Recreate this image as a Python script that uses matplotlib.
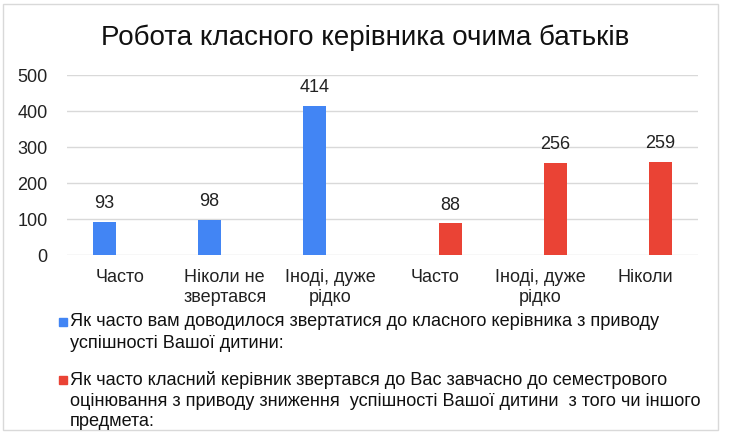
import matplotlib
matplotlib.use("Agg")
import matplotlib.pyplot as plt
from matplotlib.patches import Rectangle
import numpy as np

plt.rcParams['font.family'] = ['Liberation Sans', 'DejaVu Sans']

title = "Робота класного керівника очима батьків"
categories = ["Часто", "Ніколи не\nзвертався", "Іноді, дуже\nрідко",
              "Часто", "Іноді, дуже\nрідко", "Ніколи"]
series_names = [
    "Як часто вам доводилося звертатися до класного керівника з приводу\nуспішності Вашої дитини:",
    "Як часто класний керівник звертався до Вас завчасно до семестрового\n"
    "оцінювання з приводу зниження  успішності Вашої дитини  з того чи іншого\nпредмета:",
]
blue_vals = [93, 98, 414, None, None, None]
red_vals = [None, None, None, 88, 256, 259]
colors = ["#4285F4", "#EA4335"]
yticks = [0, 100, 200, 300, 400, 500]

W, H = 730, 441
fig = plt.figure(figsize=(W / 100, H / 100), dpi=100)
fig.patches.append(Rectangle((3 / W, 11 / H), 715 / W, 426 / H,
                             transform=fig.transFigure, fill=False,
                             edgecolor="#d9d9d9", linewidth=1))
ax = fig.add_axes([67 / W, (H - 255) / H, 631 / W, 180 / H])

x = np.arange(len(categories))
w = 0.22
off = 0.145
for vals, sign, col in [(blue_vals, -1, colors[0]), (red_vals, 1, colors[1])]:
    xs = [xi + sign * off for xi, v in zip(x, vals) if v is not None]
    vs = [v for v in vals if v is not None]
    ax.bar(xs, vs, width=w, color=col, zorder=3)
    for xi, v in zip(xs, vs):
        ax.annotate(str(v), (xi, v), xytext=(0, 7), textcoords="offset points",
                    ha="center", va="bottom", fontsize=13, color="#222222")

ax.set_xlim(-0.5, len(categories) - 0.5)
ax.set_ylim(0, 500)
ax.set_yticks(yticks)
ax.set_xticks(x)
ax.set_xticklabels(categories, fontsize=13, color="#222222", linespacing=1.25)
ax.tick_params(axis="y", length=0, pad=14, labelsize=13, labelcolor="#222222")
ax.tick_params(axis="x", length=0, pad=10)
ax.grid(axis="y", color="#d9d9d9", linewidth=1, zorder=0)
for s in ax.spines.values():
    s.set_visible(False)

fig.text(365 / W, 1 - 38 / H, title, ha="center", va="center", fontsize=20,
         color="#111111")

# legend below the chart, drawn line by line
entry_top = [322, 380]
for name, col, y0 in zip(series_names, colors, entry_top):
    fig.patches.append(Rectangle((59 / W, 1 - (y0 + 4) / H), 8 / W, 8 / H,
                                 transform=fig.transFigure, color=col))
    for i, line in enumerate(name.split("\n")):
        fig.text(70 / W, 1 - (y0 + 21 * i) / H, line, ha="left",
                 va="center", fontsize=13.1, color="#111111")

fig.savefig("out.png", dpi=100)
